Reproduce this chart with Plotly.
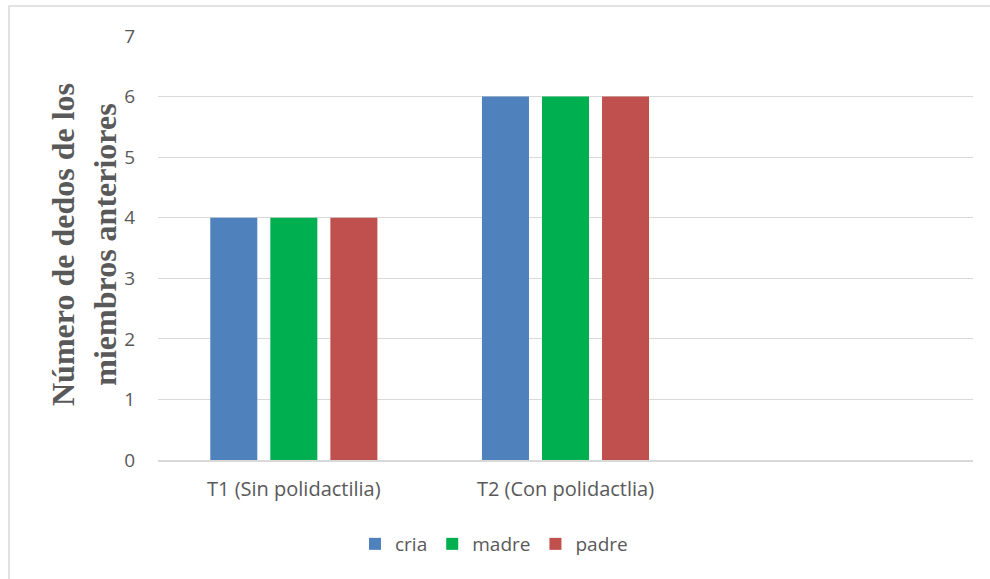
import plotly.graph_objects as go

# Data
categories = ["T1 (Sin polidactilia)", "T2 (Con polidactlia)", " "]
cria = [4, 6, None]
madre = [4, 6, None]
padre = [4, 6, None]
y_ticks = [0, 1, 2, 3, 4, 5, 6, 7]

W, H = 990, 579
ml, mr, mt, mb = 158, 17, 36, 119
pw, ph = W - ml - mr, H - mt - mb

gray = "#595959"
sans = "'Open Sans', sans-serif"

fig = go.Figure()
for name, vals, col in [("cria", cria, "#4f81bd"), ("madre", madre, "#00b050"), ("padre", padre, "#c0504d")]:
    fig.add_trace(go.Bar(x=categories, y=vals, name=name, marker=dict(color=col, line=dict(width=0))))

# chart frame (px -> paper coordinates)
def px_x(v):
    return (v - ml) / pw

def px_y(v):
    return 1 - (v - mt) / ph

fig.add_shape(type="rect", xref="paper", yref="paper",
              x0=px_x(9), x1=px_x(1000), y0=px_y(6), y1=px_y(600),
              line=dict(color="#d9d9d9", width=1.5), fillcolor="rgba(0,0,0,0)", layer="below")

fig.add_annotation(
    text="<b>Número de dedos de los<br>miembros anteriores</b>",
    xref="paper", yref="paper", x=px_x(84), y=px_y(245),
    textangle=-90, showarrow=False, xanchor="center", yanchor="middle",
    font=dict(family="'Liberation Serif', 'Times New Roman', serif", size=32, color=gray),
    align="center",
)

fig.update_layout(
    width=W, height=H,
    margin=dict(l=ml, r=mr, t=mt, b=mb),
    paper_bgcolor="white", plot_bgcolor="white",
    barmode="group", bargap=0.337, bargroupgap=0.217,
    showlegend=True,
    legend=dict(orientation="h", x=px_x(494), y=px_y(544), xanchor="center", yanchor="middle",
                font=dict(family=sans, size=19, color=gray),
                itemwidth=30, traceorder="normal"),
    xaxis=dict(type="category", categoryorder="array", categoryarray=categories,
               range=[-0.5, 2.5], tickfont=dict(family=sans, size=20, color=gray),
               showgrid=False, showline=True, linecolor="#d9d9d9", linewidth=2,
               ticks="", ticklabelstandoff=10),
    yaxis=dict(range=[0, 7], tickvals=y_ticks, tickfont=dict(family=sans, size=19, color=gray),
               showgrid=True, gridcolor="#d9d9d9", gridwidth=1,
               zeroline=False, showline=False, ticks="", ticklabelstandoff=22),
)

fig.write_html("out.html")
